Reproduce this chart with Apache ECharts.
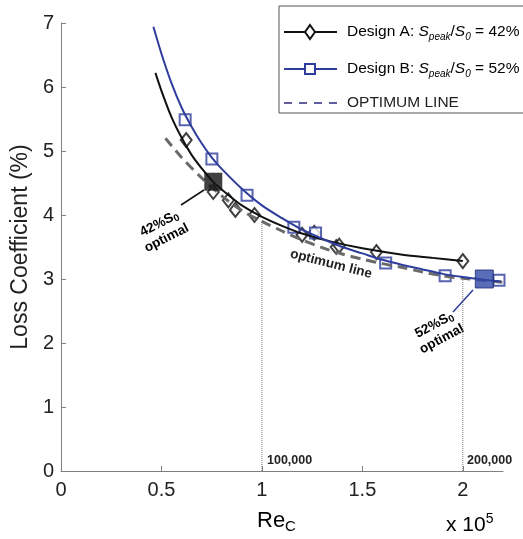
<!DOCTYPE html>
<html><head><meta charset="utf-8">
<script src="https://cdn.jsdelivr.net/npm/echarts@6/dist/echarts.min.js"></script>
<style>html,body{margin:0;padding:0;background:#fff}#c{width:523px;height:539px}</style>
</head><body><div id="c"></div>
<script>
// ---- data (Re_C in units of 1e5, loss coefficient in %) ----
const xTicks = [0, 0.5, 1, 1.5, 2];
const yTicks = [0, 1, 2, 3, 4, 5, 6, 7];
const designACurve = [[0.47,6.22],[0.5,5.94],[0.55,5.53],[0.6,5.21],[0.65,4.94],[0.7,4.73],[0.76,4.51],[0.83,4.32],[0.9,4.15],[1.0,3.97],[1.1,3.83],[1.2,3.71],[1.35,3.58],[1.5,3.48],[1.7,3.38],[1.85,3.33],[2.0,3.28]];
const designAPoints = [[0.623,5.17],[0.758,4.36],[0.833,4.23],[0.868,4.08],[0.963,4.00],[1.20,3.69],[1.26,3.72],[1.37,3.50],[1.385,3.52],[1.57,3.42],[2.0,3.28]];
const designBCurve = [[0.46,6.94],[0.5,6.52],[0.55,6.06],[0.6,5.68],[0.65,5.38],[0.7,5.12],[0.75,4.90],[0.8,4.72],[0.9,4.41],[1.0,4.15],[1.1,3.95],[1.2,3.77],[1.3,3.63],[1.4,3.50],[1.5,3.40],[1.6,3.30],[1.7,3.22],[1.8,3.15],[1.9,3.08],[2.0,3.03],[2.1,2.99],[2.19,2.96]];
const designBPoints = [[0.618,5.49],[0.751,4.875],[0.926,4.31],[1.159,3.81],[1.267,3.72],[1.616,3.25],[1.912,3.05],[2.18,2.98]];
const optimumLine = [[0.52,5.20],[0.6,4.90],[0.7,4.58],[0.8,4.30],[0.9,4.07],[1.0,3.90],[1.1,3.75],[1.2,3.61],[1.3,3.49],[1.4,3.39],[1.5,3.31],[1.6,3.24],[1.7,3.18],[1.8,3.11],[1.9,3.05],[2.0,3.01],[2.1,2.98],[2.2,2.95],[2.29,2.93]];
const optimalA = [[0.758,4.52]];
const optimalB = [[2.107,3.0]];
const ref100k = [[1,0],[1,3.9]];
const ref200k = [[2,0],[2,2.98]];

const FONT = 'Liberation Sans, Arial, sans-serif';
const BLUE = '#2e3d9c';
const chart = echarts.init(document.getElementById('c'));

const legendRich = {
  n: {fontSize: 15.5, fontFamily: FONT, color: '#222', lineHeight: 20},
  i: {fontSize: 15.5, fontFamily: FONT, fontStyle: 'italic', color: '#222', lineHeight: 20},
  s: {fontSize: 10, fontFamily: FONT, fontStyle: 'italic', color: '#222', lineHeight: 10, verticalAlign: 'bottom'}
};

chart.setOption({
  animation: false,
  grid: {left: 61, right: 20, top: 23, bottom: 68},
  xAxis: {
    type: 'value', min: 0, max: 2.2,
    axisLine: {lineStyle: {color: '#808080', width: 1}},
    axisTick: {inside: true, length: 5, customValues: xTicks, lineStyle: {color: '#808080'}},
    axisLabel: {customValues: xTicks, fontSize: 20, color: '#222', fontFamily: FONT, margin: 9},
    splitLine: {show: false}
  },
  yAxis: {
    type: 'value', min: 0, max: 7, interval: 1,
    name: 'Loss Coefficient (%)', nameLocation: 'middle', nameGap: 24,
    nameTextStyle: {fontSize: 23, color: '#222', fontFamily: FONT},
    axisLine: {show: true, lineStyle: {color: '#808080', width: 1}},
    axisTick: {show: true, inside: true, length: 5, customValues: yTicks, lineStyle: {color: '#808080'}},
    axisLabel: {customValues: yTicks, fontSize: 20, color: '#222', fontFamily: FONT, margin: 7},
    splitLine: {show: false}
  },
  series: [
    {type: 'line', data: ref100k, symbol: 'none', silent: true, lineStyle: {type: 'dotted', color: '#777', width: 1}},
    {type: 'line', data: ref200k, symbol: 'none', silent: true, lineStyle: {type: 'dotted', color: '#777', width: 1}},
    {type: 'line', data: optimumLine, symbol: 'none', smooth: 0.3, clip: false,
      lineStyle: {type: [10, 6], color: '#6a6a6a', width: 3}},
    {type: 'line', data: designACurve, symbol: 'none', smooth: 0.3, lineStyle: {color: '#111', width: 2}},
    {type: 'line', data: designBCurve, symbol: 'none', smooth: 0.3, lineStyle: {color: BLUE, width: 2}},
    {type: 'scatter', data: designAPoints, symbol: 'diamond', symbolSize: [11, 14],
      itemStyle: {color: '#fff', borderColor: '#111', borderWidth: 2}},
    {type: 'scatter', data: designBPoints, symbol: 'rect', symbolSize: 11,
      itemStyle: {color: '#fff', borderColor: BLUE, borderWidth: 2}},
    {type: 'scatter', data: optimalA, symbol: 'rect', symbolSize: 18, z: 5, itemStyle: {color: '#111'}},
    {type: 'scatter', data: optimalB, symbol: 'rect', symbolSize: 18, z: 5,
      itemStyle: {color: '#2f48a6', borderColor: '#1d2a6e', borderWidth: 1}}
  ],
  graphic: [
    // legend
    {type: 'rect', shape: {x: 279, y: 6, width: 260, height: 107}, style: {fill: '#fff', stroke: '#555', lineWidth: 1}, z: 10},
    {type: 'line', shape: {x1: 284, y1: 32, x2: 337, y2: 32}, style: {stroke: '#111', lineWidth: 2}, z: 11},
    {type: 'polygon', shape: {points: [[310,25],[315,32],[310,39],[305,32]]}, style: {fill: '#fff', stroke: '#111', lineWidth: 2}, z: 12},
    {type: 'text', x: 347, y: 32, z: 11, style: {text: '{n|Design A: }{i|S}{s|peak}{n|/}{i|S}{s|0}{n| = 42%}', rich: legendRich, verticalAlign: 'middle', align: 'left'}},
    {type: 'line', shape: {x1: 284, y1: 69, x2: 337, y2: 69}, style: {stroke: BLUE, lineWidth: 2}, z: 11},
    {type: 'rect', shape: {x: 305, y: 64, width: 10, height: 10}, style: {fill: '#fff', stroke: BLUE, lineWidth: 2}, z: 12},
    {type: 'text', x: 347, y: 69, z: 11, style: {text: '{n|Design B: }{i|S}{s|peak}{n|/}{i|S}{s|0}{n| = 52%}', rich: legendRich, verticalAlign: 'middle', align: 'left'}},
    {type: 'line', shape: {x1: 284, y1: 103, x2: 337, y2: 103}, style: {stroke: '#5f5f9e', lineWidth: 2, lineDash: [8, 7]}, z: 11},
    {type: 'text', x: 347, y: 103, z: 11, style: {text: 'OPTIMUM LINE', fontSize: 15.5, fontFamily: FONT, fill: '#222', verticalAlign: 'middle', align: 'left'}},
    // axis title
    {type: 'text', x: 257, y: 521, style: {text: '{a|Re}{b|C}', verticalAlign: 'middle', align: 'left',
      rich: {a: {fontSize: 22, fontFamily: FONT, color: '#222', lineHeight: 26}, b: {fontSize: 15, fontFamily: FONT, color: '#222', lineHeight: 15, verticalAlign: 'bottom'}}}},
    {type: 'text', x: 446, y: 525, style: {text: '{a|x 10}{b|5}', verticalAlign: 'middle', align: 'left',
      rich: {a: {fontSize: 21, fontFamily: FONT, color: '#222', lineHeight: 26}, b: {fontSize: 14, fontFamily: FONT, color: '#222', lineHeight: 14, verticalAlign: 'top'}}}},
    // reference labels
    {type: 'text', x: 267, y: 461, style: {text: '100,000', fontSize: 12.5, fontWeight: 'bold', fontFamily: FONT, fill: '#222', verticalAlign: 'middle'}},
    {type: 'text', x: 467, y: 461, style: {text: '200,000', fontSize: 12.5, fontWeight: 'bold', fontFamily: FONT, fill: '#222', verticalAlign: 'middle'}},
    // optimum line label
    {type: 'text', x: 331, y: 264, rotation: -0.25, style: {text: 'optimum line', fontSize: 13.5, fontWeight: 'bold', fontFamily: FONT, fill: '#222', align: 'center', verticalAlign: 'middle'}},
    // 42% annotation
    {type: 'line', shape: {x1: 181, y1: 205, x2: 204, y2: 190}, style: {stroke: '#111', lineWidth: 1.5}},
    {type: 'text', x: 163, y: 231, rotation: 0.47, style: {text: '{a|42%S}{s|0}\n{a|optimal}', align: 'center', verticalAlign: 'middle',
      rich: {a: {fontSize: 13.5, fontWeight: 'bold', fontFamily: FONT, color: '#222', lineHeight: 16}, s: {fontSize: 10, fontWeight: 'bold', fontFamily: FONT, color: '#222', lineHeight: 10, verticalAlign: 'bottom'}}}},
    // 52% annotation
    {type: 'line', shape: {x1: 453, y1: 312, x2: 473, y2: 290}, style: {stroke: BLUE, lineWidth: 1.5}},
    {type: 'text', x: 438, y: 332, rotation: 0.49, style: {text: '{a|52%S}{s|0}\n{a|optimal}', align: 'center', verticalAlign: 'middle',
      rich: {a: {fontSize: 13.5, fontWeight: 'bold', fontFamily: FONT, color: '#2a2d8a', lineHeight: 16}, s: {fontSize: 10, fontWeight: 'bold', fontFamily: FONT, color: '#2a2d8a', lineHeight: 10, verticalAlign: 'bottom'}}}}
  ]
});
</script></body></html>
